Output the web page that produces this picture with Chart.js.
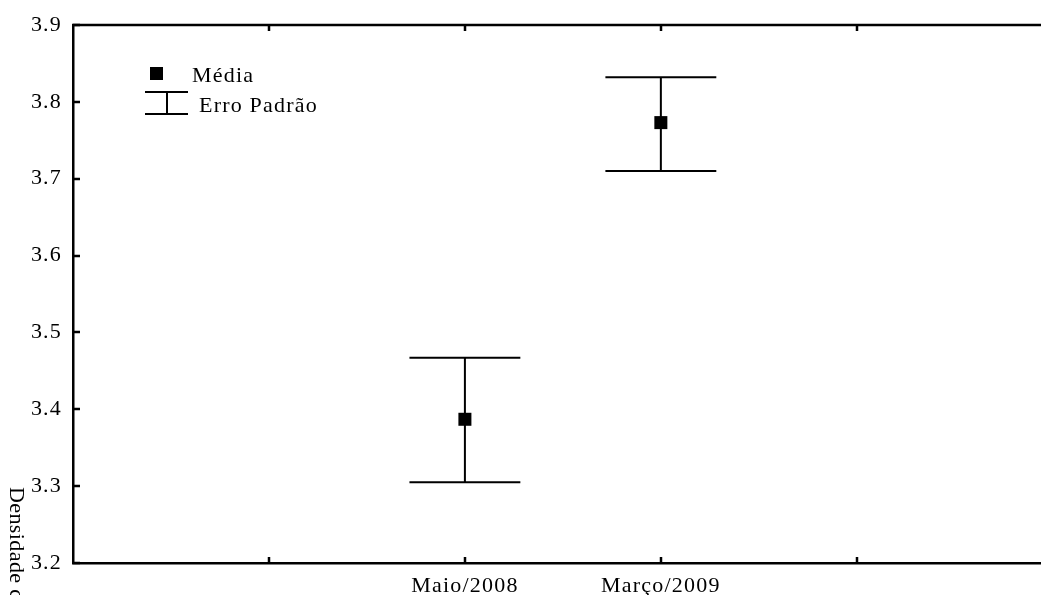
<!DOCTYPE html>
<html>
<head>
<meta charset="utf-8">
<script src="https://cdn.jsdelivr.net/npm/chart.js@4/dist/chart.umd.min.js"></script>
<style>
  html, body { margin: 0; padding: 0; background: #fff; }
  #wrap { width: 1041px; height: 595px; }
</style>
</head>
<body>
<div id="wrap"><canvas id="chart" width="1041" height="595"></canvas></div>
<script>
// Sampling dates and their mean / standard error bounds
const categories = ["Maio/2008", "Março/2009"];
const means = [3.387, 3.773];
const upper = [3.467, 3.832];
const lower = [3.305, 3.710];

// Axis ticks and text
const yTicks = [3.2, 3.3, 3.4, 3.5, 3.6, 3.7, 3.8, 3.9];
const yTitle = "Densidade celular";
const legendLabels = ["Média", "Erro Padrão"];

const FONT = "'Liberation Serif', 'Times New Roman', serif";
const SPACING = "1.2px";

// categories sit on x = 2, 3 of a 0..~5 axis with ticks at 1..4
const points = categories.map((c, i) => ({ x: i + 2, y: means[i], hi: upper[i], lo: lower[i] }));

function labelFor(v) {
  const idx = Math.round(v) - 2;
  if (Math.abs(v - Math.round(v)) > 1e-6) return "";
  return categories[idx] || "";
}

// the serif text is set slightly spaced out
const spacing = {
  id: "spacing",
  beforeLayout(chart) { chart.ctx.letterSpacing = SPACING; },
  beforeDraw(chart) { chart.ctx.letterSpacing = SPACING; }
};

// whiskers with caps
const errorBars = {
  id: "errorBars",
  beforeDatasetsDraw(chart) {
    const ctx = chart.ctx;
    const xs = chart.scales.x, ys = chart.scales.y;
    ctx.save();
    ctx.strokeStyle = "#000";
    ctx.lineWidth = 2;
    points.forEach(p => {
      const cx = xs.getPixelForValue(p.x);
      const x0 = xs.getPixelForValue(p.x - 0.283);
      const x1 = xs.getPixelForValue(p.x + 0.283);
      const yh = ys.getPixelForValue(p.hi);
      const yl = ys.getPixelForValue(p.lo);
      ctx.beginPath();
      ctx.moveTo(cx, yh); ctx.lineTo(cx, yl);
      ctx.moveTo(x0, yh); ctx.lineTo(x1, yh);
      ctx.moveTo(x0, yl); ctx.lineTo(x1, yl);
      ctx.stroke();
    });
    ctx.restore();
  }
};

// top frame line plus inward tick marks
const frame = {
  id: "frame",
  afterDraw(chart) {
    const ctx = chart.ctx;
    const a = chart.chartArea;
    const xs = chart.scales.x, ys = chart.scales.y;
    ctx.save();
    ctx.strokeStyle = "#000";
    ctx.lineWidth = 2.5;
    ctx.beginPath();
    ctx.moveTo(a.left - 1, a.top);
    ctx.lineTo(a.right, a.top);
    ctx.stroke();
    ctx.beginPath();
    [1, 2, 3, 4].forEach(v => {
      const px = Math.round(xs.getPixelForValue(v));
      ctx.moveTo(px, a.bottom); ctx.lineTo(px, a.bottom - 6);
      ctx.moveTo(px, a.top); ctx.lineTo(px, a.top + 6);
    });
    yTicks.forEach(v => {
      const py = Math.round(ys.getPixelForValue(v));
      ctx.moveTo(a.left, py); ctx.lineTo(a.left + 7, py);
    });
    ctx.stroke();
    ctx.restore();
  }
};

// legend box inside the plot and the rotated y title
const legendAndTitle = {
  id: "legendAndTitle",
  afterDraw(chart) {
    const ctx = chart.ctx;
    ctx.save();
    ctx.letterSpacing = SPACING;
    ctx.fillStyle = "#000";
    ctx.strokeStyle = "#000";
    ctx.font = "22px " + FONT;
    ctx.textBaseline = "alphabetic";
    ctx.textAlign = "left";

    ctx.fillRect(150, 67, 13, 13);
    ctx.fillText(legendLabels[0], 192, 82);

    ctx.lineWidth = 2;
    ctx.beginPath();
    ctx.moveTo(145, 92); ctx.lineTo(188, 92);
    ctx.moveTo(145, 114); ctx.lineTo(188, 114);
    ctx.moveTo(167, 92); ctx.lineTo(167, 114);
    ctx.stroke();
    ctx.fillText(legendLabels[1], 199, 112);

    ctx.letterSpacing = "0.4px";
    ctx.translate(10, 487);
    ctx.rotate(Math.PI / 2);
    ctx.fillText(yTitle, 0, 0);
    ctx.restore();
  }
};

new Chart(document.getElementById("chart"), {
  type: "scatter",
  data: {
    datasets: [{
      data: points,
      pointStyle: "rect",
      pointRadius: 9.2,
      pointHoverRadius: 9.2,
      backgroundColor: "#000",
      borderColor: "#000",
      borderWidth: 0
    }]
  },
  options: {
    responsive: false,
    animation: false,
    layout: { autoPadding: false, padding: { top: 25, right: 0, left: 0, bottom: 0 } },
    plugins: {
      legend: { display: false },
      tooltip: { enabled: false }
    },
    scales: {
      x: {
        type: "linear",
        min: 0,
        max: 4.94,
        afterFit(s) { s.height = 32; s.paddingLeft = 0; s.paddingRight = 0; },
        afterBuildTicks(s) {
          s.ticks = [1, 2, 3, 4].map(v => ({ value: v }));
        },
        ticks: {
          padding: 10,
          color: "#000",
          font: { family: FONT, size: 22 },
          maxRotation: 0,
          autoSkip: false,
          callback: v => labelFor(v)
        },
        grid: { display: true, drawOnChartArea: false, drawTicks: false },
        border: { display: true, color: "#000", width: 2.5 }
      },
      y: {
        min: 3.2,
        max: 3.9,
        afterFit(s) { s.width = 73; s.paddingTop = 0; s.paddingBottom = 0; },
        afterBuildTicks(s) {
          s.ticks = yTicks.map(v => ({ value: v }));
        },
        ticks: {
          padding: 11,
          color: "#000",
          font: { family: FONT, size: 22 },
          callback: v => v.toFixed(1)
        },
        grid: { display: true, drawOnChartArea: false, drawTicks: false },
        border: { display: true, color: "#000", width: 2.5 }
      }
    }
  },
  plugins: [spacing, errorBars, frame, legendAndTitle]
});
</script>
</body>
</html>
